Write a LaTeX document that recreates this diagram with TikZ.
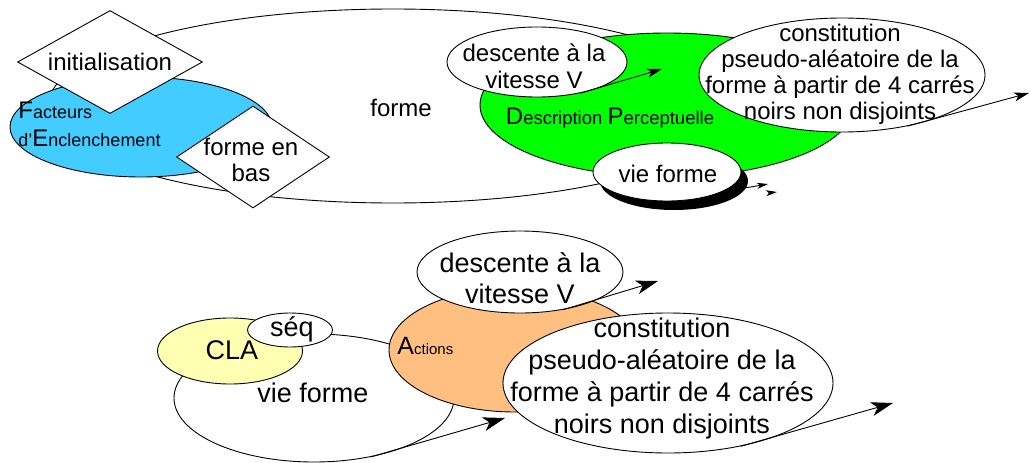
\documentclass[tikz,border=0pt]{standalone}
\usepackage{fontspec}
\setmainfont{Liberation Sans}
\usetikzlibrary{arrows.meta,shapes.geometric,shadows}
\definecolor{fblue}{RGB}{66,204,255}
\definecolor{dgreen}{RGB}{0,255,0}
\definecolor{cyellow}{RGB}{255,255,178}
\definecolor{corange}{RGB}{255,191,128}
\newcommand\grand[1]{{\fontsize{24}{28}\selectfont #1}}

\begin{document}
\begin{tikzpicture}[x=1pt, y=-1pt, line width=0.9pt, >={Stealth[length=15pt,width=9pt,inset=4pt]},
oval/.style={draw, ellipse, fill=white, inner sep=0pt},
losange/.style={draw, diamond, fill=white, inner sep=0pt},
txt/.style={align=center, inner sep=0pt, font=\fontsize{24}{26}\selectfont},
txtb/.style={align=center, inner sep=0pt, font=\fontsize{27}{32}\selectfont},
stub/.style={arrows={-Stealth[length=11pt,width=6pt,inset=3pt]}},
big/.style={arrows={-Stealth[length=22pt,width=14pt,inset=6pt]}}]

\useasboundingbox (0,0) rectangle (1031,463);

\node[oval, minimum width=690, minimum height=194] (forme) at (393,106) {};
\node[txt] (formet) at (401,108) {forme};
\node[oval, fill=fblue, minimum width=262, minimum height=100] (fe) at (141,127) {};
\node[losange, minimum width=185, minimum height=103] (init) at (110,62) {};
\node[txt] (initt) at (init) {initialisation};
\node[losange, minimum width=153, minimum height=102] (bas) at (253,157) {};
\node[txt] (bast) at (251,160) {forme en\\bas};
\node[txt, anchor=west, align=left, font=\fontsize{18}{28}\selectfont] (fet) at (18,124) {\grand{F}acteurs\\d'\grand{E}nclenchement};

\node[oval, fill=dgreen, minimum width=374, minimum height=144] (dp) at (667,105) {};
\node[txt, font=\fontsize{18.5}{22}\selectfont] (dpt) at (610,118) {\grand{D}escription \grand{P}erceptuelle};
\node[oval, minimum width=180, minimum height=70] (descA) at (537,62) {};
\node[txt, font=\fontsize{24}{27}\selectfont] (descAt) at (534,66) {descente à la\\vitesse V};
\node[oval, minimum width=286, minimum height=114] (consA) at (842,75) {};
\node[txt] (consAt) at (840,74) {constitution\\pseudo-aléatoire de la\\forme à partir de 4 carrés\\noirs non disjoints};
\node[oval, minimum width=148, minimum height=58, drop shadow={fill=black, opacity=1, shadow xshift=7pt, shadow yshift=-9pt}] (vieA) at (667,172) {};
\node[txt] (vieAt) at (668,174) {vie forme};

\coordinate (pA) at (662,69);
\coordinate (pB) at (1029,93);
\coordinate (pC) at (768,184);
\coordinate (pD) at (777,192);
\coordinate (pE) at (768,193);
\draw[->] (descA.-35) -- (pA);
\draw[->] (consA.-38) -- (pB);
\draw[stub] (vieA.-20) -- (pC);
\draw[stub] (pE) -- (pD);

\node[oval, minimum width=280, minimum height=128] (vieB) at (314,398) {};
\node[txtb] (vieBt) at (313,393) {vie forme};
\node[oval, fill=cyellow, minimum width=145, minimum height=66] (cla) at (230,351) {};
\node[txtb] (clat) at (232,350) {CLA};
\node[oval, minimum width=85, minimum height=34] (seq) at (290,330) {};
\node[txtb] (seqt) at (292,329) {séq};
\node[oval, fill=corange, minimum width=252, minimum height=124] (act) at (515,350) {};
\node[txt, anchor=west, font=\fontsize{15}{18}\selectfont] (actt) at (397,346) {{\fontsize{25}{28}\selectfont A}ctions};
\node[oval, minimum width=206, minimum height=82] (descB) at (520,272) {};
\node[txtb, font=\fontsize{27}{31}\selectfont] (descBt) at (520,278) {descente à la\\vitesse V};
\node[oval, minimum width=330, minimum height=140] (consB) at (668,383) {};
\node[txtb] (consBt) at (662,379) {constitution\\pseudo-aléatoire de la\\forme à partir de 4 carrés\\noirs non disjoints};

\coordinate (qA) at (658,281);
\coordinate (qB) at (893,403);
\coordinate (qC) at (505,418);
\draw[big] (descB.-41) -- (qA);
\draw[big] (consB.-41) -- (qB);
\draw[big] (vieB.-46) -- (qC);
\end{tikzpicture}
\end{document}
